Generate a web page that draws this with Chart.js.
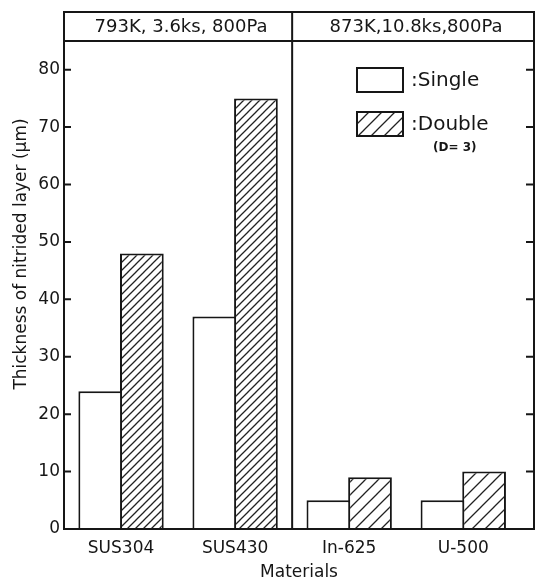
<!DOCTYPE html>
<html>
<head>
<meta charset="utf-8">
<script src="https://cdn.jsdelivr.net/npm/chart.js@4.4.1/dist/chart.umd.min.js"></script>
<style>
  html, body { margin: 0; padding: 0; background: #fff; }
</style>
</head>
<body>
<canvas id="chart" width="538" height="584"></canvas>
<script>
// data
const categories = ['SUS304', 'SUS430', 'In-625', 'U-500'];
const singleValues = [24, 37, 5, 5];
const doubleValues = [48, 75, 9, 10];
const conditionLabels = ['793K, 3.6ks, 800Pa', '873K,10.8ks,800Pa'];
const conditionSizes = [2, 2]; // materials under each condition
const legendLabels = [':Single', ':Double'];
const legendNote = '(D= 3)';

const FONT = '"DejaVu Sans", sans-serif';
const INK = '#161616';

// hatch "/" pattern
function makeHatch(step) {
  const c = document.createElement('canvas');
  c.width = step; c.height = step;
  const g = c.getContext('2d');
  g.fillStyle = '#fff';
  g.fillRect(0, 0, step, step);
  g.strokeStyle = '#222';
  g.lineWidth = 1.3;
  g.beginPath();
  g.moveTo(-1, step + 1); g.lineTo(step + 1, -1);
  g.moveTo(-2, 2); g.lineTo(2, -2);
  g.moveTo(step - 2, step + 2); g.lineTo(step + 2, step - 2);
  g.stroke();
  return g.createPattern(c, 'repeat');
}
const denseHatch = makeHatch(8);
const wideHatch = makeHatch(13);

const positions = categories.map((c, i) => i + 0.5);
const toPoints = vals => vals.map((v, i) => ({ x: positions[i], y: v }));

const framePlugin = {
  id: 'frame',
  afterDraw(chart) {
    const { ctx, chartArea: a, scales: { x, y } } = chart;
    const top0 = a.top - 29;
    ctx.save();
    ctx.strokeStyle = INK;
    ctx.lineWidth = 2;
    // outer frame + header line
    ctx.strokeRect(a.left, top0, a.right - a.left, a.bottom - top0);
    ctx.beginPath();
    ctx.moveTo(a.left, a.top); ctx.lineTo(a.right, a.top);
    // condition dividers
    let acc = 0;
    const bounds = [a.left];
    conditionSizes.forEach((n, i) => {
      acc += n;
      const last = i === conditionSizes.length - 1;
      const px = last ? a.right : x.getPixelForValue(acc);
      bounds.push(px);
      if (!last) {
        ctx.moveTo(px, top0); ctx.lineTo(px, a.bottom);
      }
    });
    // inward ticks on both sides
    y.ticks.forEach(t => {
      if (t.value === 0) return;
      const py = y.getPixelForValue(t.value);
      ctx.moveTo(a.left, py); ctx.lineTo(a.left + 7, py);
      ctx.moveTo(a.right, py); ctx.lineTo(a.right - 8, py);
    });
    ctx.stroke();

    // header texts
    ctx.fillStyle = INK;
    ctx.font = '18px ' + FONT;
    ctx.textAlign = 'center';
    ctx.textBaseline = 'middle';
    conditionLabels.forEach((t, i) => {
      ctx.fillText(t, (bounds[i] + bounds[i + 1]) / 2 + 3, (top0 + a.top) / 2 + 1);
    });

    // y title
    ctx.save();
    ctx.translate(a.left - 42, a.top + 213);
    ctx.rotate(-Math.PI / 2);
    ctx.font = '17px ' + FONT;
    ctx.fillText('Thickness of nitrided layer (\u03bcm)', 0, 0);
    ctx.restore();

    // legend
    const lx = a.right - 177, ly = a.top + 27;
    const fills = ['#fff', wideHatch];
    legendLabels.forEach((t, i) => {
      const by = ly + i * 44;
      ctx.fillStyle = fills[i];
      ctx.fillRect(lx, by, 46, 24);
      ctx.lineWidth = 2;
      ctx.strokeRect(lx, by, 46, 24);
      ctx.fillStyle = INK;
      ctx.font = '20px ' + FONT;
      ctx.textAlign = 'left';
      ctx.fillText(t, lx + 54, by + 13);
    });
    ctx.font = 'bold 12px ' + FONT;
    ctx.fillText(legendNote, lx + 76, ly + 80);
    ctx.restore();
  }
};

new Chart(document.getElementById('chart'), {
  type: 'bar',
  data: {
    datasets: [
      {
        label: 'Single',
        data: toPoints(singleValues),
        backgroundColor: '#fff',
        borderColor: INK,
        borderWidth: 2
      },
      {
        label: 'Double',
        data: toPoints(doubleValues),
        backgroundColor: [denseHatch, denseHatch, wideHatch, wideHatch],
        borderColor: INK,
        borderWidth: 2
      }
    ]
  },
  options: {
    responsive: false,
    animation: false,
    // slight overlap so the two bars share one edge line
    categoryPercentage: 0.73,
    barPercentage: 1.05,
    layout: { padding: { top: 41, right: 4, left: 0, bottom: 0 } },
    plugins: {
      legend: { display: false },
      tooltip: { enabled: false }
    },
    scales: {
      x: {
        type: 'linear',
        offset: false,
        min: 0,
        max: 4.12,
        afterBuildTicks: s => { s.ticks = positions.map(v => ({ value: v })); },
        afterFit: s => { s.height = 55; },
        grid: { display: false, drawTicks: false },
        border: { display: false },
        ticks: {
          autoSkip: false,
          maxRotation: 0,
          padding: 9,
          color: INK,
          font: { family: FONT, size: 17 },
          callback: (v, i) => categories[i]
        },
        title: {
          display: true,
          text: 'Materials',
          color: INK,
          font: { family: FONT, size: 17 },
          padding: { top: 2, bottom: 1 }
        }
      },
      y: {
        min: 0,
        max: 85,
        afterFit: s => { s.width = 64; },
        grid: { display: false, drawTicks: false },
        border: { display: false },
        ticks: {
          stepSize: 10,
          includeBounds: false,
          padding: 4,
          color: INK,
          font: { family: FONT, size: 17 }
        }
      }
    }
  },
  plugins: [framePlugin]
});
</script>
</body>
</html>
